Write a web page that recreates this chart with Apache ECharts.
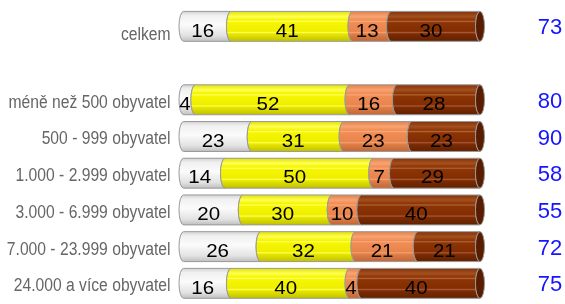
<!DOCTYPE html>
<html>
<head>
<meta charset="utf-8">
<script src="https://cdn.jsdelivr.net/npm/echarts@6/dist/echarts.min.js"></script>
<style>
  html, body { margin: 0; padding: 0; background: #fff; }
  #chart { width: 565px; height: 304px; }
</style>
</head>
<body>
<div id="chart"></div>
<script>
// categories (second row is an empty spacer)
var categories = ['celkem', '', 'méně než 500 obyvatel', '500 - 999 obyvatel', '1.000 - 2.999 obyvatel',
    '3.000 - 6.999 obyvatel', '7.000 - 23.999 obyvatel', '24.000 a více obyvatel'];
var white = [16, null, 4, 23, 14, 20, 26, 16];
var yellow = [41, null, 52, 31, 50, 30, 32, 40];
var orange = [13, null, 16, 23, 7, 10, 21, 4];
var brown = [30, null, 28, 23, 29, 40, 21, 40];
var totals = [73, null, 80, 90, 58, 55, 72, 75];

var RX = 4.5;

function grad(stops) {
    return new echarts.graphic.LinearGradient(0, 0, 0, 1, stops.map(function(s) {
        return { offset: s[0], color: s[1] };
    }));
}

var fills = [
    grad([[0, '#cfcfcf'], [0.15, '#f0f0f0'], [0.45, '#fbfbfb'], [0.8, '#e2e2e2'], [1, '#bcbcbc']]),
    grad([[0, '#dede00'], [0.18, '#ffff50'], [0.3, '#f4f400'], [0.34, '#ffff60'], [0.38, '#f6f600'],
        [0.66, '#eeee00'], [0.7, '#ffff50'], [0.74, '#e8e800'], [1, '#bdbd00']]),
    grad([[0, '#e07c46'], [0.18, '#f8a472'], [0.3, '#f08c54'], [0.34, '#f8a878'], [0.38, '#f08c54'],
        [0.66, '#e8844e'], [0.7, '#f4a070'], [0.74, '#e08048'], [1, '#c06434']]),
    grad([[0, '#7e2e08'], [0.18, '#a4501e'], [0.3, '#8c3404'], [0.34, '#b0643a'], [0.38, '#8c3404'],
        [0.66, '#822e02'], [0.7, '#a8583a'], [0.74, '#7e2c02'], [1, '#5e2000']])
];

var groups = [white, yellow, orange, brown];

// build [start, end, categoryIndex, value] for each segment
function segments(k) {
    var out = [];
    categories.forEach(function(c, i) {
        if (groups[k][i] == null) return;
        var start = 0;
        for (var j = 0; j < k; j++) start += groups[j][i];
        out.push([start, start + groups[k][i], i, groups[k][i]]);
    });
    return out;
}

function makeRender(k) {
    return function(params, api) {
        var s = api.coord([api.value(0), api.value(2)]);
        var e = api.coord([api.value(1), api.value(2)]);
        var h = api.size([0, 1])[1] * 0.815;
        var ry = h / 2, cy = s[1], top = cy - ry, bot = cy + ry;
        var x0 = s[0], x1 = e[0];
        var d = 'M' + x0 + ',' + top + ' L' + x1 + ',' + top +
            ' A' + RX + ',' + ry + ' 0 0 0 ' + x1 + ',' + bot +
            ' L' + x0 + ',' + bot +
            ' A' + RX + ',' + ry + ' 0 0 1 ' + x0 + ',' + top + ' Z';
        var children = [{
            type: 'path',
            shape: { pathData: d },
            style: { fill: fills[k], stroke: '#999', lineWidth: 1 }
        }];
        if (k === 3) {
            children.push({
                type: 'path',
                shape: {
                    pathData: 'M' + x1 + ',' + top + ' A' + RX + ',' + ry + ' 0 0 1 ' + x1 + ',' + bot +
                        ' A' + RX + ',' + ry + ' 0 0 1 ' + x1 + ',' + top + ' Z'
                },
                style: { fill: '#5a1c00', stroke: '#999', lineWidth: 1 }
            });
        }
        children.push({
            type: 'text',
            x: (x0 + x1) / 2 - RX,
            y: cy + 5,
            scaleX: 1.08,
            style: {
                text: String(api.value(3)),
                x: 0, y: 0,
                align: 'center',
                verticalAlign: 'middle',
                fill: '#000',
                font: '19px "Liberation Sans", Arial, sans-serif'
            }
        });
        return { type: 'group', children: children };
    };
}

var series = groups.map(function(g, k) {
    return {
        type: 'custom',
        renderItem: makeRender(k),
        encode: { x: [0, 1], y: 2 },
        data: segments(k),
        silent: true
    };
});

// totals on the right
series.push({
    type: 'custom',
    encode: { x: 0, y: 1 },
    data: totals.map(function(t, i) { return t == null ? null : [100, i, t]; }).filter(Boolean),
    renderItem: function(params, api) {
        var p = api.coord([api.value(0), api.value(1)]);
        return {
            type: 'text',
            style: {
                text: String(api.value(2)),
                x: p[0] + 70,
                y: p[1] + 2,
                align: 'center',
                verticalAlign: 'middle',
                fill: '#1414ff',
                font: '22px "Liberation Sans", Arial, sans-serif'
            }
        };
    },
    silent: true
});

// category labels, drawn condensed
series.push({
    type: 'custom',
    encode: { x: 0, y: 1 },
    data: categories.map(function(c, i) { return [0, i]; }),
    renderItem: function(params, api) {
        var i = api.value(1);
        var p = api.coord([0, i]);
        return {
            type: 'text',
            x: p[0] - 13,
            y: p[1] + (i === 0 ? 9 : 3),
            scaleX: 0.87,
            style: {
                text: categories[i],
                x: 0, y: 0,
                align: 'right',
                verticalAlign: 'middle',
                fill: '#666',
                font: '18px "Liberation Sans", Arial, sans-serif'
            }
        };
    },
    silent: true
});

var chart = echarts.init(document.getElementById('chart'));
chart.setOption({
    animation: false,
    grid: { left: 183.5, right: 85, top: 8, bottom: 2.3, outerBoundsMode: 'none' },
    xAxis: { type: 'value', min: 0, max: 100, show: false },
    yAxis: {
        type: 'category',
        data: categories,
        inverse: true,
        show: false
    },
    series: series
});
window.addEventListener('resize', function() { chart.resize(); });
</script>
</body>
</html>
